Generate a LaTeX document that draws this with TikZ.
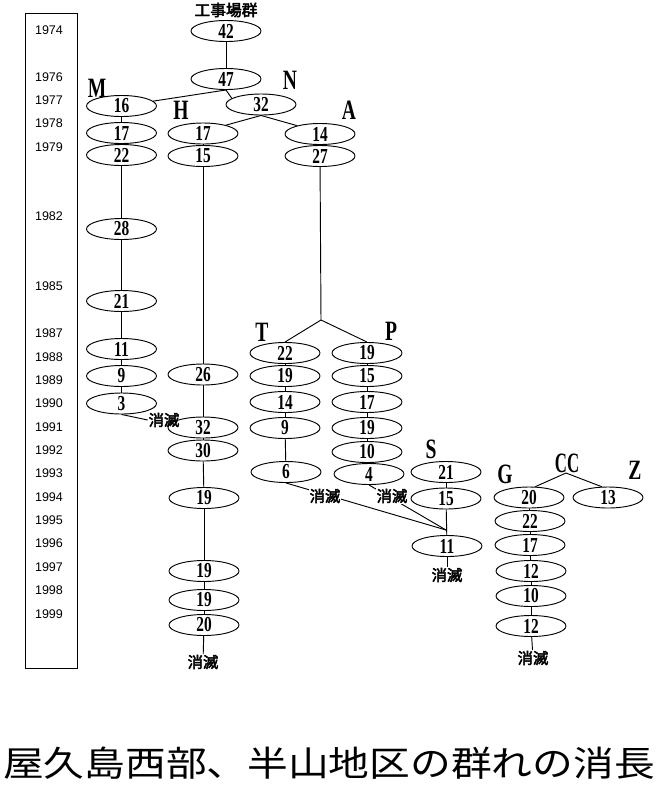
\documentclass[tikz,border=0pt]{standalone}
\usepackage{fontspec}
\usepackage{graphicx}
\setmainfont{Liberation Serif}
\newfontfamily\yrfont{Liberation Sans}
\newfontfamily\cjkfont{Noto Sans CJK JP}
\newfontfamily\cjkbold[FakeBold=3]{Noto Sans CJK JP}
\usetikzlibrary{shapes.geometric}
\newcommand\nmb[1]{\scalebox{0.72}[1]{#1}}
\newcommand\ltr[1]{\scalebox{0.7}[1]{#1}}
\begin{document}
\begin{tikzpicture}[x=0.75pt,y=-0.75pt,
 el/.style={ellipse,draw,line width=0.7pt,minimum width=52.5pt,minimum height=15.75pt,inner sep=0pt,font=\fontsize{16}{16}\selectfont\bfseries},
 yr/.style={font=\yrfont\fontsize{9.4}{9.4}\selectfont,inner sep=0pt},
 grp/.style={font=\fontsize{21}{21}\selectfont\bfseries,inner sep=0pt},
 gone/.style={font=\cjkbold\fontsize{11.5}{11.5}\selectfont,inner sep=0.5pt},
 ln/.style={line width=0.7pt},
]
\useasboundingbox (0,0) rectangle (657,790);
% year box
\node[draw,line width=0.7pt,minimum width=39pt,minimum height=491.25pt,inner sep=0pt] (box) at (51,340.5) {};
\foreach \yv/\yy in {1974/30,1976/77,1977/100,1978/123.5,1979/147,1982/216,1985/286,1987/333,1988/357,1989/380,1990/403,1991/427,1992/450,1993/473,1994/497,1995/520,1996/543,1997/567,1998/590,1999/614}
  \node[yr] (y\yv) at (49,\yy) {\yv};
% top
\node[font=\cjkbold\fontsize{11.8}{11.8}\selectfont,inner sep=0pt] (kj) at (226,10) {工事場群};
\node[el] (g42) at (226,31) {\nmb{42}};
\node[el] (g47) at (226,79) {\nmb{47}};
\node[el] (n32) at (261,104.5) {\nmb{32}};
% M
\node[el] (m16) at (121.5,106) {\nmb{16}};
\node[el] (m17) at (121.5,133) {\nmb{17}};
\node[el] (m22) at (121.5,155) {\nmb{22}};
\node[el] (m28) at (121.5,229) {\nmb{28}};
\node[el] (m21) at (121.5,301) {\nmb{21}};
\node[el] (m11) at (121.5,349) {\nmb{11}};
\node[el] (m9) at (121.5,376) {\nmb{9}};
\node[el] (m3) at (121.5,403.5) {\nmb{3}};
% H
\node[el] (h17) at (203,133.5) {\nmb{17}};
\node[el] (h15) at (203,156) {\nmb{15}};
\node[el] (h26) at (203,374.5) {\nmb{26}};
\node[el] (h32) at (203,427.5) {\nmb{32}};
\node[el] (h30) at (203,450.5) {\nmb{30}};
\node[el] (h19a) at (204,498) {\nmb{19}};
\node[el] (h19b) at (204,571) {\nmb{19}};
\node[el] (h19c) at (204,600) {\nmb{19}};
\node[el] (h20) at (204,625) {\nmb{20}};
% A
\node[el] (a14) at (320,134) {\nmb{14}};
\node[el] (a27) at (320,156) {\nmb{27}};
\coordinate (br) at (321,320);
% T
\node[el] (t22) at (285,353) {\nmb{22}};
\node[el] (t19) at (285,376) {\nmb{19}};
\node[el] (t14) at (285,402) {\nmb{14}};
\node[el] (t9) at (285,428) {\nmb{9}};
\node[el] (t6) at (286,472) {\nmb{6}};
% P
\node[el] (p19) at (367,353) {\nmb{19}};
\node[el] (p15) at (367,376) {\nmb{15}};
\node[el] (p17) at (367,402) {\nmb{17}};
\node[el] (p19b) at (367,428) {\nmb{19}};
\node[el] (p10) at (367,452) {\nmb{10}};
\node[el] (p4) at (369,474) {\nmb{4}};
% S
\node[el] (s21) at (446,472) {\nmb{21}};
\node[el] (s15) at (446,498.5) {\nmb{15}};
\node[el] (s11) at (447,546) {\nmb{11}};
\coordinate (jn) at (446,530);
% G, Z
\node[el] (g20) at (529,497.5) {\nmb{20}};
\node[el] (g22) at (530,521) {\nmb{22}};
\node[el] (g17) at (530,545) {\nmb{17}};
\node[el] (g12) at (531,571) {\nmb{12}};
\node[el] (g10) at (531,596) {\nmb{10}};
\node[el] (g12b) at (531,626) {\nmb{12}};
\node[el] (z13) at (608,497.5) {\nmb{13}};
\coordinate (ccb) at (566,473);
% group letters
\node[grp] (lM) at (97,88) {\ltr{M}};
\node[grp] (lN) at (290,80) {\ltr{N}};
\node[grp] (lH) at (181,110) {\ltr{H}};
\node[grp] (lA) at (349,110) {\ltr{A}};
\node[grp] (lT) at (262,332) {\ltr{T}};
\node[grp] (lP) at (391,331) {\ltr{P}};
\node[grp] (lS) at (431,449) {\ltr{S}};
\node[grp] (lG) at (505,474) {\ltr{G}};
\node[grp] (lCC) at (567,463) {\scalebox{0.6}[1]{CC}};
\node[grp] (lZ) at (635,470) {\ltr{Z}};
% connectors
\draw[ln] (g42) -- (g47);
\draw[ln] (g47.south) -- (m16);
\draw[ln] (g47.south) -- (n32.168);
\draw[ln] (n32.south) -- (h17.20);
\draw[ln] (n32.south) -- (a14.160);
\foreach \a/\b in {m16/m17,m17/m22,m22/m28,m28/m21,m21/m11,m11/m9,m9/m3,
  h17/h15,h15/h26,h26/h32,h32/h30,h30/h19a,h19a/h19b,h19b/h19c,h19c/h20,
  a14/a27,t22/t19,t19/t14,t14/t9,t9/t6,
  p19/p15,p15/p17,p17/p19b,p19b/p10,p10/p4,
  s21/s15,s15/s11,g20/g22,g22/g17,g17/g12,g12/g10,g10/g12b}
  \draw[ln] (\a) -- (\b);
\draw[ln] (a27) -- (br);
\draw[ln] (br) -- (t22.north);
\draw[ln] (br) -- (p19.north);
\draw[ln] (t6.south) -- (jn);
\draw[ln] (p4.south) -- (jn);
\draw[ln] (ccb) -- (g20.60);
\draw[ln] (ccb) -- (z13.120);
% extinction labels
\node[gone] (k1) at (164,420) {消滅};
\node[gone,fill=white] (kt) at (325,496) {消滅};
\node[gone,fill=white] (kp) at (392,496) {消滅};
\node[gone] (ks) at (447,575) {消滅};
\node[gone] (kh) at (203,662) {消滅};
\node[gone] (kg) at (533,658) {消滅};
\draw[ln] (m3.south) -- (k1.west);
\draw[ln] (s11) -- (ks);
\draw[ln] (h20) -- (kh);
\draw[ln] (g12b) -- (kg);
% title
\node[font=\cjkfont\fontsize{26.25}{26.25}\selectfont,inner sep=0pt] (title) at (329,763) {\scalebox{1.164}[1]{屋久島西部、半山地区の群れの消長}};
\end{tikzpicture}
\end{document}
